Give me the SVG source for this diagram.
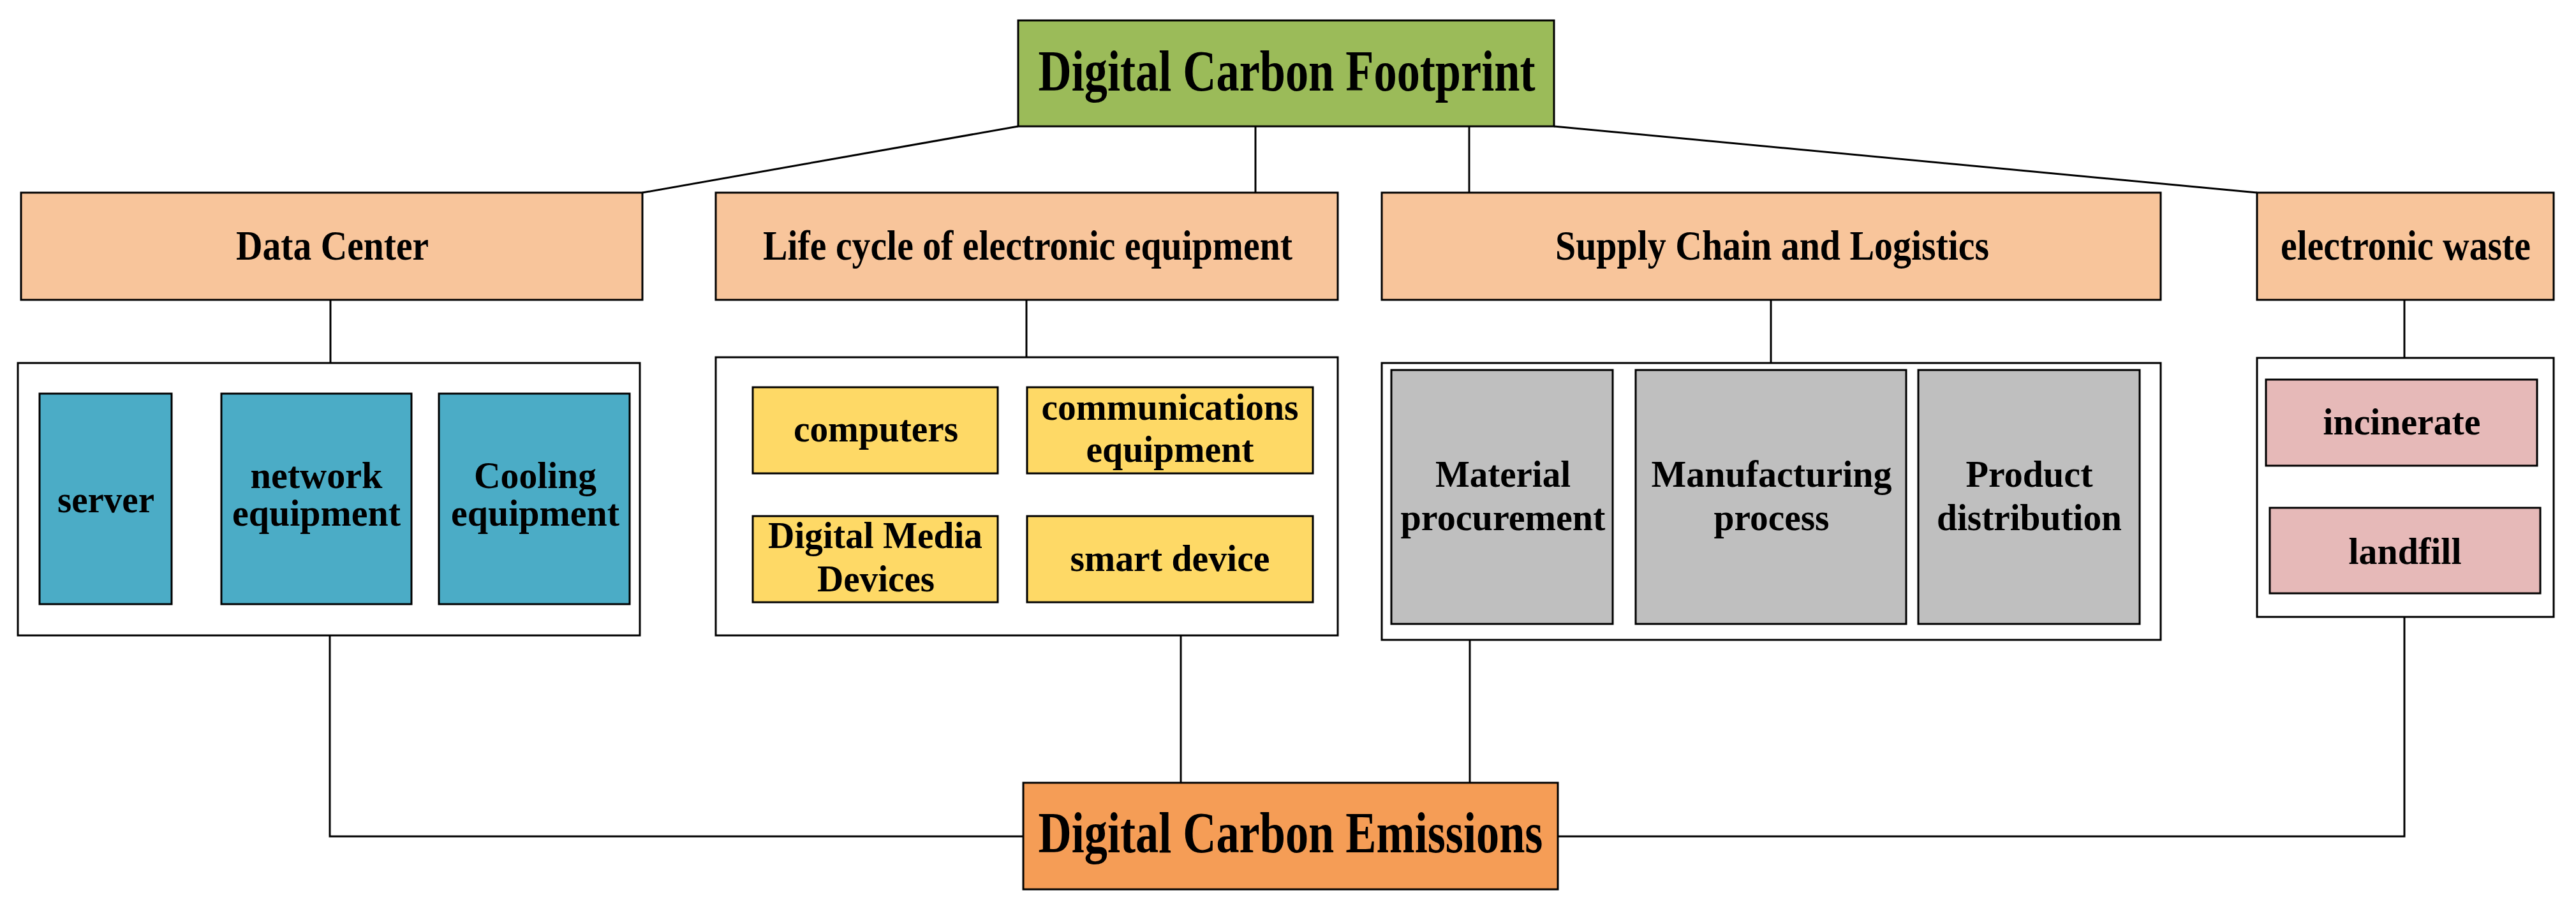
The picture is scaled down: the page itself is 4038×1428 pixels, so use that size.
<svg xmlns="http://www.w3.org/2000/svg" width="4038" height="1428" viewBox="0 0 4038 1428">
<style>
rect{stroke:#000;stroke-width:3}
text{font-family:"Liberation Serif","Times New Roman",serif;font-weight:bold;fill:#000;text-anchor:middle}
.big{font-size:90px}.h{font-size:66px}.s{font-size:60px}
.c{fill:none;stroke:#000;stroke-width:3}
</style>
<rect width="4038" height="1428" fill="#fff" style="stroke:none"/>
<g id="connectors">
<line class="c" x1="1596" y1="198" x2="1007" y2="302"/>
<line class="c" x1="1968" y1="198" x2="1968" y2="302"/>
<line class="c" x1="2303" y1="198" x2="2303" y2="302"/>
<line class="c" x1="2436" y1="198" x2="3538" y2="302"/>
<line class="c" x1="518" y1="470" x2="518" y2="569"/>
<line class="c" x1="1609" y1="470" x2="1609" y2="560"/>
<line class="c" x1="2776" y1="470" x2="2776" y2="569"/>
<line class="c" x1="3769" y1="470" x2="3769" y2="561"/>
<polyline class="c" points="517,996 517,1311 1604,1311"/>
<line class="c" x1="1851" y1="996" x2="1851" y2="1227"/>
<line class="c" x1="2304" y1="1003" x2="2304" y2="1227"/>
<polyline class="c" points="3769,967 3769,1311 2442,1311"/>
</g>
<g id="footprint"><rect x="1596" y="32" width="840" height="166" fill="#9BBB59"/><text class="big" x="2017" y="142" textLength="779" lengthAdjust="spacingAndGlyphs">Digital Carbon Footprint</text></g>
<g id="datacenter"><rect x="33" y="302" width="974" height="168" fill="#F8C59B"/><text class="h" x="521" y="407" textLength="302" lengthAdjust="spacingAndGlyphs">Data Center</text></g>
<g id="lifecycle"><rect x="1122" y="302" width="975" height="168" fill="#F8C59B"/><text class="h" x="1611" y="407" textLength="830" lengthAdjust="spacingAndGlyphs">Life cycle of electronic equipment</text></g>
<g id="supply"><rect x="2166" y="302" width="1221" height="168" fill="#F8C59B"/><text class="h" x="2778" y="407" textLength="680" lengthAdjust="spacingAndGlyphs">Supply Chain and Logistics</text></g>
<g id="ewaste"><rect x="3538" y="302" width="465" height="168" fill="#F8C59B"/><text class="h" x="3771" y="407" textLength="392" lengthAdjust="spacingAndGlyphs">electronic waste</text></g>
<g id="dc-box"><rect x="28" y="569" width="975" height="427" fill="#fff"/>
<rect x="62" y="617" width="207" height="330" fill="#4BACC6"/><text class="s" x="166" y="803" textLength="152" lengthAdjust="spacingAndGlyphs">server</text>
<rect x="347" y="617" width="298" height="330" fill="#4BACC6"/><text class="s" x="496" y="765" textLength="207" lengthAdjust="spacingAndGlyphs">network</text><text class="s" x="496" y="824" textLength="264" lengthAdjust="spacingAndGlyphs">equipment</text>
<rect x="688" y="617" width="299" height="330" fill="#4BACC6"/><text class="s" x="839" y="765" textLength="192" lengthAdjust="spacingAndGlyphs">Cooling</text><text class="s" x="839" y="824" textLength="264" lengthAdjust="spacingAndGlyphs">equipment</text>
</g>
<g id="lc-box"><rect x="1122" y="560" width="975" height="436" fill="#fff"/>
<rect x="1180" y="607" width="384" height="135" fill="#FED966"/><text class="s" x="1373" y="692" textLength="258" lengthAdjust="spacingAndGlyphs">computers</text>
<rect x="1610" y="607" width="448" height="135" fill="#FED966"/><text class="s" x="1834" y="658" textLength="403" lengthAdjust="spacingAndGlyphs">communications</text><text class="s" x="1834" y="724" textLength="263" lengthAdjust="spacingAndGlyphs">equipment</text>
<rect x="1180" y="809" width="384" height="135" fill="#FED966"/><text class="s" x="1372" y="859" textLength="336" lengthAdjust="spacingAndGlyphs">Digital Media</text><text class="s" x="1373" y="927" textLength="184" lengthAdjust="spacingAndGlyphs">Devices</text>
<rect x="1610" y="809" width="448" height="135" fill="#FED966"/><text class="s" x="1834" y="895" textLength="313" lengthAdjust="spacingAndGlyphs">smart device</text>
</g>
<g id="sc-box"><rect x="2166" y="569" width="1221" height="434" fill="#fff"/>
<rect x="2181" y="580" width="347" height="398" fill="#BFBFBF"/><text class="s" x="2356" y="763" textLength="212" lengthAdjust="spacingAndGlyphs">Material</text><text class="s" x="2356" y="831" textLength="321" lengthAdjust="spacingAndGlyphs">procurement</text>
<rect x="2564" y="580" width="424" height="398" fill="#BFBFBF"/><text class="s" x="2777" y="763" textLength="377" lengthAdjust="spacingAndGlyphs">Manufacturing</text><text class="s" x="2777" y="831" textLength="181" lengthAdjust="spacingAndGlyphs">process</text>
<rect x="3007" y="580" width="347" height="398" fill="#BFBFBF"/><text class="s" x="3181" y="763" textLength="199" lengthAdjust="spacingAndGlyphs">Product</text><text class="s" x="3181" y="831" textLength="290" lengthAdjust="spacingAndGlyphs">distribution</text>
</g>
<g id="ew-box"><rect x="3538" y="561" width="465" height="406" fill="#fff"/>
<rect x="3552" y="595" width="425" height="135" fill="#E6B9B8"/><text class="s" x="3765" y="681" textLength="247" lengthAdjust="spacingAndGlyphs">incinerate</text>
<rect x="3558" y="796" width="424" height="134" fill="#E6B9B8"/><text class="s" x="3770" y="884" textLength="177" lengthAdjust="spacingAndGlyphs">landfill</text>
</g>
<g id="emissions"><rect x="1604" y="1227" width="838" height="167" fill="#F59D56"/><text class="big" x="2023" y="1336" textLength="791" lengthAdjust="spacingAndGlyphs">Digital Carbon Emissions</text></g>
</svg>
